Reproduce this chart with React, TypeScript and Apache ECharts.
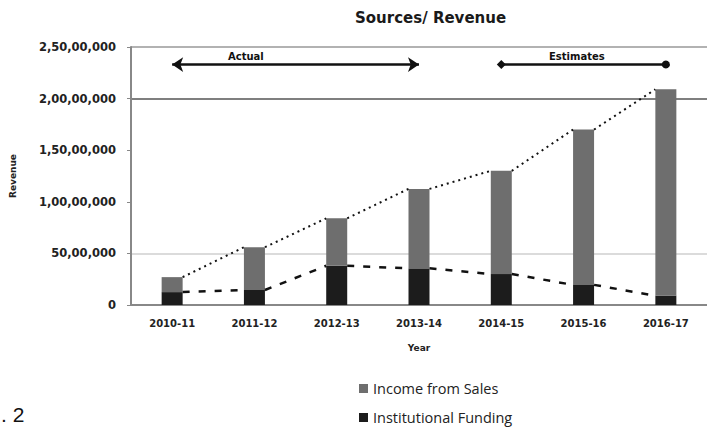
import React, { useEffect, useRef } from "react";
import * as echarts from "echarts";

// Financial years on the x axis
const years = ["2010-11", "2011-12", "2012-13", "2013-14", "2014-15", "2015-16", "2016-17"];
// Revenue in rupees
const institutionalFunding = [1250000, 1450000, 3800000, 3550000, 3000000, 1950000, 900000];
const incomeFromSales = [1450000, 4150000, 4600000, 7700000, 10000000, 15050000, 20000000];
// Y axis range
const yMax = 25000000;
const yStep = 5000000;
// Period bands shown as arrows above the bars
const arrowLevel = 23300000;
const actualSpan = [0, 3];
const estimateSpan = [4, 6];

const BAR_W = 21;

// Indian digit grouping: 2,50,00,000
function formatINR(v: number): string {
  const s = String(Math.round(v));
  if (s.length <= 3) return s;
  const last3 = s.slice(-3);
  let rest = s.slice(0, -3);
  const parts: string[] = [];
  while (rest.length > 2) {
    parts.unshift(rest.slice(-2));
    rest = rest.slice(0, -2);
  }
  if (rest) parts.unshift(rest);
  return parts.join(",") + "," + last3;
}

const totals = years.map((_, i) => institutionalFunding[i] + incomeFromSales[i]);
const totalSegments = years.slice(0, -1).map((_, i) => [i, totals[i], totals[i + 1]]);
const fundingSegments = years.slice(0, -1).map((_, i) => [i, institutionalFunding[i], institutionalFunding[i + 1]]);

// Draws a series line from the right edge of one bar top to the left edge of the next
function connector(dash: number[], width: number) {
  return (params: any, api: any) => {
    const i = api.value(0);
    const p0 = api.coord([i, api.value(1)]);
    const p1 = api.coord([i + 1, api.value(2)]);
    return {
      type: "line",
      shape: { x1: p0[0] + BAR_W / 2, y1: p0[1], x2: p1[0] - BAR_W / 2, y2: p1[1] },
      style: { stroke: "#111", lineWidth: width, lineDash: dash },
    };
  };
}

export default function App() {
  const ref = useRef<HTMLDivElement>(null);

  useEffect(() => {
    if (!ref.current) return;
    const chart = echarts.init(ref.current, null, { renderer: "svg" });
    const font = "DejaVu Sans";
    chart.setOption({
      animation: false,
      backgroundColor: "#ffffff",
      grid: { left: 126, right: 0, top: 47, bottom: 135, containLabel: false },
      title: {
        text: "Sources/ Revenue",
        left: 350,
        top: 5,
        textStyle: { fontFamily: font, fontSize: 15, fontWeight: "bold", color: "#1a1a1a" },
      },
      legend: {
        data: ["Income from Sales", "Institutional Funding"],
        orient: "vertical",
        left: 354,
        top: 376,
        itemWidth: 9,
        itemHeight: 9,
        itemGap: 14,
        icon: "rect",
        textStyle: { fontFamily: "Open Sans", fontSize: 14.5, color: "#222" },
      },
      xAxis: {
        type: "category",
        data: years,
        name: "Year",
        nameLocation: "middle",
        nameGap: 38,
        nameTextStyle: { fontFamily: font, fontSize: 9, fontWeight: "bold", color: "#222" },
        axisLine: { show: true, lineStyle: { color: "#888", width: 2 } },
        axisTick: { show: false },
        axisLabel: { fontFamily: font, fontSize: 10, fontWeight: "bold", color: "#222", margin: 13 },
      },
      yAxis: {
        type: "value",
        min: 0,
        max: yMax,
        interval: yStep,
        name: "Revenue",
        nameLocation: "middle",
        nameGap: 114,
        nameRotate: 90,
        nameTextStyle: { fontFamily: font, fontSize: 9, fontWeight: "bold", color: "#222" },
        axisLine: { show: true, lineStyle: { color: "#888", width: 2 } },
        axisTick: { show: true, length: 4, lineStyle: { color: "#888" } },
        axisLabel: {
          fontFamily: font,
          fontSize: 11.5,
          fontWeight: "bold",
          color: "#222",
          margin: 15,
          formatter: (v: number) => formatINR(v),
        },
        splitLine: {
          show: true,
          lineStyle: {
            color: ["rgba(0,0,0,0)", "#cfcfcf", "rgba(0,0,0,0)", "rgba(0,0,0,0)", "#555", "#999"],
            width: 1.5,
          },
        },
      },
      graphic: [
        {
          type: "text",
          left: 228,
          top: 51,
          style: { text: "Actual", fontFamily: font, fontSize: 10, fontWeight: "bold", fill: "#111" },
        },
        {
          type: "text",
          left: 549,
          top: 51,
          style: { text: "Estimates", fontFamily: font, fontSize: 10, fontWeight: "bold", fill: "#111" },
        },
        {
          type: "text",
          left: 1,
          top: 404,
          style: { text: ". 2", fontFamily: "Liberation Sans", fontSize: 21, fill: "#111" },
        },
      ],
      series: [
        {
          name: "Institutional Funding",
          type: "bar",
          stack: "revenue",
          data: institutionalFunding,
          barWidth: BAR_W,
          itemStyle: { color: "#1c1c1c" },
          markLine: {
            silent: true,
            symbolSize: 11,
            label: { show: false },
            lineStyle: { color: "#111", width: 2.5, type: "solid" },
            data: [
              [
                { coord: [actualSpan[0], arrowLevel], symbol: "arrow" },
                { coord: [actualSpan[1], arrowLevel], symbol: "arrow" },
              ],
              [
                { coord: [estimateSpan[0], arrowLevel], symbol: "diamond", symbolSize: 9 },
                { coord: [estimateSpan[1], arrowLevel], symbol: "circle", symbolSize: 8 },
              ],
            ],
          },
        },
        {
          name: "Income from Sales",
          type: "bar",
          stack: "revenue",
          data: incomeFromSales,
          barWidth: BAR_W,
          itemStyle: { color: "#6e6e6e" },
        },
        {
          name: "total-connector",
          type: "custom",
          renderItem: connector([2, 4], 2),
          encode: { x: 0, y: [1, 2] },
          data: totalSegments,
          z: 5,
          silent: true,
        },
        {
          name: "funding-connector",
          type: "custom",
          renderItem: connector([7, 9], 2.5),
          encode: { x: 0, y: [1, 2] },
          data: fundingSegments,
          z: 5,
          silent: true,
        },
      ],
    });
    return () => chart.dispose();
  }, []);

  return (
    <div
      ref={ref}
      style={{ position: "fixed", left: 0, top: 0, width: 707, height: 440 }}
    />
  );
}
